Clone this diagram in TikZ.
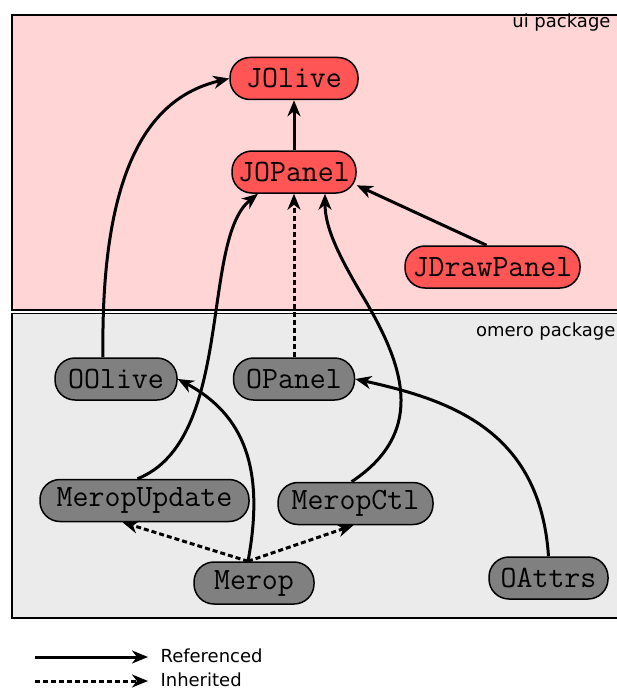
\documentclass[tikz,border=0pt]{standalone}
\usepackage{fontspec}
\setmainfont{DejaVu Sans}
\usetikzlibrary{arrows.meta}

\definecolor{uibg}{HTML}{FFD5D5}
\definecolor{omerobg}{HTML}{EBEBEB}
\definecolor{uinode}{HTML}{FF5555}
\definecolor{omeronode}{HTML}{808080}

\tikzset{
  ref/.style={draw,line width=3pt,-{Stealth[length=16pt,width=13pt,inset=5pt]}},
  inh/.style={ref,dash pattern=on 5pt off 3pt},
  pkg/.style={draw,line width=1.3pt},
  pkglabel/.style={font=\fontsize{18}{20}\selectfont,anchor=east},
}

\begin{document}
\begin{tikzpicture}[x=1pt,y=-1pt]
  \useasboundingbox (0,0) rectangle (616,690);

  % packages
  \path[pkg,fill=uibg] (12,15) rectangle (640,310);
  \path[pkg,fill=omerobg] (12,313.5) rectangle (640,618);
  \node[pkglabel] (uilabel) at (614,23) {ui package};
  \node[pkglabel] (omerolabel) at (619,332) {omero package};

  \begin{scope}[every node/.style={draw,line width=1.5pt,rounded corners=20pt,
      minimum height=42pt,inner xsep=2pt,font=\ttfamily\fontsize{31}{33}\selectfont}]
    \node[fill=uinode,minimum width=128pt] (JOlive)     at (294,78.5) {JOlive};
    \node[fill=uinode,minimum width=124pt] (JOPanel)    at (294,172)  {JOPanel};
    \node[fill=uinode,minimum width=175pt] (JDrawPanel) at (492.5,267) {JDrawPanel};
    \node[fill=omeronode,minimum width=122pt] (OOlive)  at (116,379)  {OOlive};
    \node[fill=omeronode,minimum width=121pt] (OPanel)  at (294,379)  {OPanel};
    \node[fill=omeronode,minimum width=209pt] (MeropUpdate) at (144.5,500.5) {MeropUpdate};
    \node[fill=omeronode,minimum width=155pt] (MeropCtl) at (355.5,503.5) {MeropCtl};
    \node[fill=omeronode,minimum width=120pt] (Merop)   at (254,583)  {Merop};
    \node[fill=omeronode,minimum width=119pt] (OAttrs)  at (548.5,578) {OAttrs};
  \end{scope}

  % references
  \draw[ref] ([xshift=-13pt]OOlive.north) .. controls (100,150) and (160,95) .. (JOlive.west);
  \path (JOPanel) edge[ref] (JOlive);
  \draw[ref] ([xshift=-7pt]MeropUpdate.north) .. controls (235,440) and (200,240)
    .. ([xshift=-36pt]JOPanel.south);
  \draw[ref] ([xshift=-4pt]MeropCtl.north) .. controls (430,430) and (400,360) .. (365,300)
    .. controls (335,250) and (325,225) .. ([xshift=31pt]JOPanel.south);
  \draw[ref] ([xshift=-6pt]JDrawPanel.north) -- (JOPanel.-12);
  \draw[ref] ([xshift=-6pt]Merop.north) .. controls (265,470) and (245,415) .. (OOlive.east);
  \draw[ref] (OAttrs.north) .. controls (540,430) and (450,400) .. (OPanel.east);

  % inheritance
  \path (OPanel) edge[inh] (JOPanel);
  \draw[inh] ([xshift=-6pt]Merop.north) -- ([xshift=-22pt]MeropUpdate.south);
  \draw[inh] ([xshift=-6pt]Merop.north) -- ([xshift=-2pt]MeropCtl.south);

  % legend
  \coordinate (refstart) at (35,657);
  \coordinate (refend) at (148,657);
  \coordinate (inhstart) at (35,681);
  \coordinate (inhend) at (148,681);
  \draw[ref] (refstart) -- (refend);
  \draw[inh] (inhstart) -- (inhend);
  \node[font=\fontsize{18}{20}\selectfont,anchor=west] (reflabel) at (157,656) {Referenced};
  \node[font=\fontsize{18}{20}\selectfont,anchor=west] (inhlabel) at (157,680) {Inherited};
\end{tikzpicture}
\end{document}
